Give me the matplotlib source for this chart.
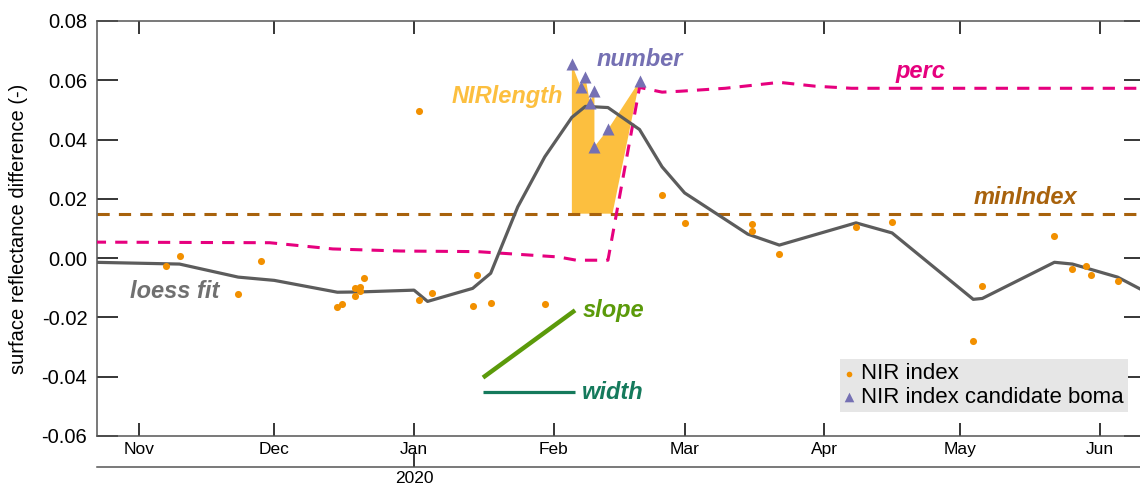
import matplotlib
matplotlib.use("Agg")
import matplotlib.pyplot as plt
import matplotlib.dates as mdates
import pandas as pd

plt.rcParams['font.family'] = ['Liberation Sans', 'DejaVu Sans']
plt.rcParams['axes.unicode_minus'] = False

# NIR index observations
nir_dates = ['2019-11-07', '2019-11-10', '2019-11-23', '2019-11-28', '2019-12-15', '2019-12-16',
             '2019-12-19', '2019-12-19', '2019-12-20', '2019-12-20', '2019-12-21', '2020-01-02',
             '2020-01-02', '2020-01-05', '2020-01-14', '2020-01-15', '2020-01-18', '2020-01-30',
             '2020-02-25', '2020-03-01', '2020-03-16', '2020-03-16', '2020-03-22', '2020-04-08',
             '2020-04-16', '2020-05-04', '2020-05-06', '2020-05-22', '2020-05-26', '2020-05-29',
             '2020-05-30', '2020-06-05']
nir_vals = [-0.0026, 0.0008, -0.0122, -0.0009, -0.0165, -0.0156,
            -0.0100, -0.0129, -0.0098, -0.0112, -0.0067, -0.0142,
            0.0496, -0.0118, -0.0162, -0.0058, -0.0152, -0.0156,
            0.0214, 0.0119, 0.0114, 0.0093, 0.0014, 0.0105,
            0.0122, -0.0281, -0.0095, 0.0076, -0.0037, -0.0026,
            -0.0058, -0.0077]

# candidate boma points
boma_dates = ['2020-02-05', '2020-02-07', '2020-02-08', '2020-02-09', '2020-02-10', '2020-02-10',
              '2020-02-13', '2020-02-20']
boma_vals = [0.0654, 0.0576, 0.0610, 0.0525, 0.0563, 0.0376, 0.0434, 0.0597]
fill_end = '2020-02-14'

# loess fit
loess_dates = ['2019-10-22', '2019-11-10', '2019-11-23', '2019-12-01', '2019-12-15', '2019-12-20',
               '2020-01-01', '2020-01-04', '2020-01-14', '2020-01-18', '2020-01-20 16:00', '2020-01-24',
               '2020-01-30', '2020-02-05', '2020-02-08', '2020-02-13', '2020-02-20', '2020-02-25',
               '2020-03-01', '2020-03-15', '2020-03-22', '2020-04-08', '2020-04-16', '2020-05-04',
               '2020-05-06', '2020-05-22', '2020-05-26', '2020-06-05', '2020-06-11']
loess_vals = [-0.0014, -0.0020, -0.0064, -0.0075, -0.0115, -0.0114,
              -0.0108, -0.0146, -0.0102, -0.0051, 0.0049, 0.0173,
              0.0342, 0.0475, 0.0512, 0.0508, 0.0434, 0.0308,
              0.0220, 0.0081, 0.0044, 0.0119, 0.0085, -0.0139,
              -0.0136, -0.0014, -0.0020, -0.0064, -0.0112]

# perc threshold
perc_dates = ['2019-10-22', '2019-11-30', '2019-12-14', '2019-12-29', '2020-01-15', '2020-02-02',
              '2020-02-06', '2020-02-13', '2020-02-20', '2020-02-25', '2020-02-29', '2020-03-10',
              '2020-03-22', '2020-03-30', '2020-04-07', '2020-06-11']
perc_vals = [0.0054, 0.0052, 0.0031, 0.0024, 0.0022, 0.0004,
             -0.0007, -0.0007, 0.0576, 0.0560, 0.0563, 0.0573,
             0.0593, 0.0580, 0.0573, 0.0573]

min_index = 0.015

slope_dates = ['2020-01-16 07:00', '2020-02-05 17:00']
slope_vals = [-0.0403, -0.0176]
width_dates = ['2020-01-16 07:00', '2020-02-05 17:00']
width_vals = [-0.0453, -0.0453]

c_dot = '#f29000'
c_tri = '#7570b3'
c_fill = '#fcbf3f'
c_perc = '#e6007e'
c_min = '#a8620c'
c_loess = '#5c5c5c'
c_slope = '#5b9a0a'
c_width = '#157a5c'
c_axis = '#555555'


def td(d):
    return pd.to_datetime(d, format='mixed')


fig = plt.figure(figsize=(11.4, 4.86), dpi=100)
ax = fig.add_axes([0.0851, 0.1029, 0.9193, 0.8539])

fx = [td(boma_dates[0])] + list(td(boma_dates)) + [td(fill_end)]
fy = [min_index] + boma_vals + [min_index]
ax.fill(fx, fy, color=c_fill, lw=0, zorder=1)

ax.axhline(min_index, color=c_min, lw=2.2, dashes=(4, 3), zorder=2)
ax.plot(td(perc_dates), perc_vals, color=c_perc, lw=2.2, dashes=(4, 3), zorder=3)
ax.plot(td(loess_dates), loess_vals, color=c_loess, lw=2.3, zorder=4)
ax.plot(td(slope_dates), slope_vals, color=c_slope, lw=3.2, solid_capstyle='butt', zorder=4)
ax.plot(td(width_dates), width_vals, color=c_width, lw=2.3, solid_capstyle='butt', zorder=4)

ax.scatter(td(nir_dates), nir_vals, s=26, color=c_dot, lw=0, zorder=5, label='NIR index')
ax.scatter(td(boma_dates), boma_vals, s=75, marker='^', color=c_tri, lw=0, zorder=6,
           label='NIR index candidate boma')

tkw = dict(fontsize=17, fontweight='bold', fontstyle='italic', va='center', ha='left')
ax.text(td('2020-02-10 14:00'), 0.0671, 'number', color=c_tri, **tkw)
ax.text(td('2020-01-09 10:00'), 0.0546, 'NIRlength', color=c_fill, **tkw)
ax.text(td('2020-04-16 16:00'), 0.0631, 'perc', color=c_perc, **tkw)
ax.text(td('2020-05-04'), 0.0203, 'minIndex', color=c_min, **tkw)
ax.text(td('2019-10-30'), -0.0112, 'loess fit', color='#707070', **tkw)
ax.text(td('2020-02-07 12:00'), -0.0176, 'slope', color=c_slope, **tkw)
ax.text(td('2020-02-07 07:00'), -0.0454, 'width', color=c_width, **tkw)

ax.set_xlim(td('2019-10-22 17:00'), td('2020-06-11 02:00'))
ax.set_ylim(-0.06, 0.08)
ax.set_yticks([-0.06, -0.04, -0.02, 0.0, 0.02, 0.04, 0.06, 0.08])
ax.yaxis.set_major_formatter(plt.FormatStrFormatter('%.2f'))
ax.xaxis.set_major_locator(mdates.MonthLocator())
ax.xaxis.set_major_formatter(mdates.DateFormatter('%b'))

for s in ax.spines.values():
    s.set_color(c_axis)
    s.set_linewidth(1.1)
ax.tick_params(axis='y', direction='in', length=15, width=1.1, color='black',
               labelsize=14.5, pad=7, left=True, right=True)
ax.tick_params(axis='x', direction='in', length=9.5, width=1.1, color='black',
               labelsize=12.5, pad=4, top=True, bottom=True)
ax.set_ylabel('surface reflectance difference (-)', fontsize=14.5, labelpad=10)

sec = ax.secondary_xaxis(-0.0747)
sec.set_xticks([td('2020-01-01')])
sec.set_xticklabels(['2020'])
sec.spines['bottom'].set_color(c_axis)
sec.spines['bottom'].set_linewidth(1.1)
sec.tick_params(direction='in', length=10, width=1.1, color='black', labelsize=12.5, pad=3)

leg = ax.legend(loc='lower right', bbox_to_anchor=(0.9838, 0.0578), borderaxespad=0,
                fontsize=16, frameon=True, fancybox=False, framealpha=1,
                facecolor='#e6e6e6', edgecolor='none', borderpad=0.2,
                labelspacing=0.1, handlelength=0.45, handletextpad=0.3, markerscale=0.8)

fig.savefig('out.png', dpi=100)
